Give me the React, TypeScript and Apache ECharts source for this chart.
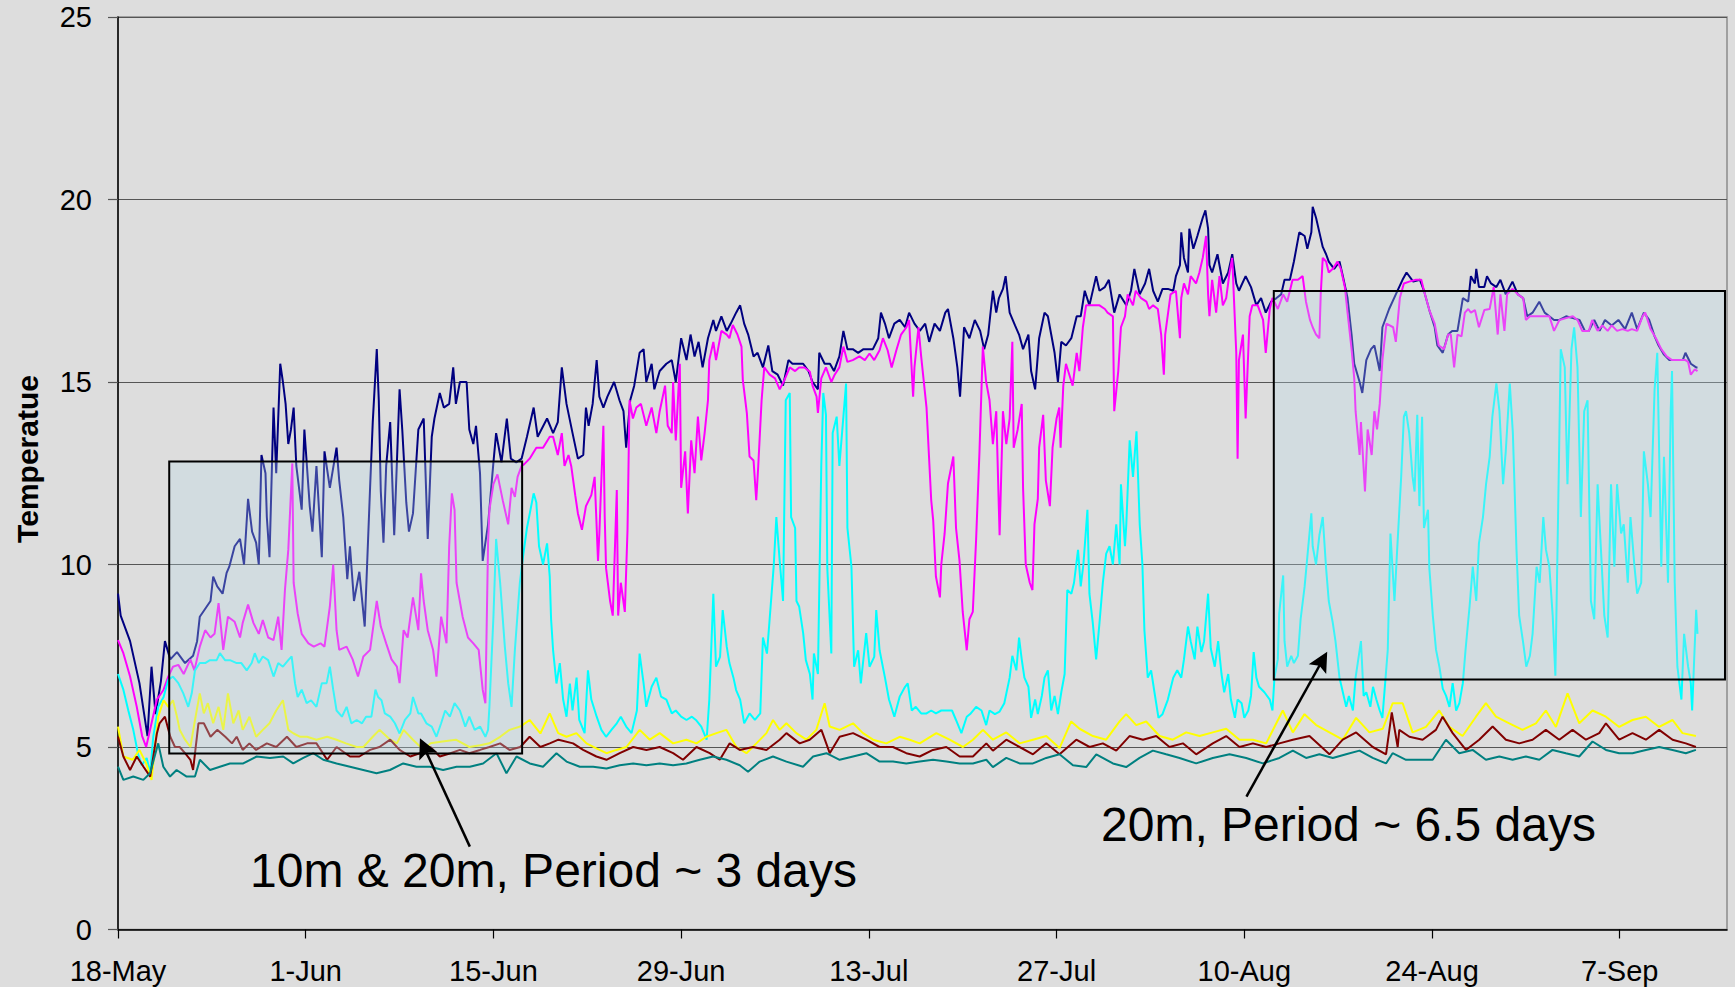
import React, { useEffect, useRef } from "react";
import * as echarts from "echarts";

// ---- axes ----
const TICK_DAYS = [0, 14, 28, 42, 56, 70, 84, 98, 112];
const DAY_LABELS = ["18-May", "1-Jun", "15-Jun", "29-Jun", "13-Jul", "27-Jul", "10-Aug", "24-Aug", "7-Sep"];
const Y_TICKS = [0, 5, 10, 15, 20, 25];

// ---- series: [day since 18-May, temperature] ----
const navy = [[0,9.2],[0.2,8.6],[0.9,7.9],[1.6,6.75],[2.2,5.3],[2.5,7.2],[2.8,5.9],[3.2,6.8],[3.5,7.9],[3.9,7.4],[4.4,7.6],[5.0,7.3],[5.6,7.5],[5.9,7.9],[6.1,8.57],[6.9,9.0],[7.1,9.67],[7.4,9.4],[7.8,9.2],[8.1,9.77],[8.3,9.94],[8.7,10.5],[9.1,10.7],[9.4,10.0],[9.7,11.8],[10.0,10.9],[10.3,10.6],[10.5,10.0],[10.7,13.0],[11.0,12.5],[11.1,11.3],[11.3,10.2],[11.6,14.3],[11.8,12.5],[12.1,15.5],[12.3,15.0],[12.5,14.4],[12.7,13.3],[12.9,13.7],[13.1,14.3],[13.3,12.7],[13.7,11.5],[13.9,13.7],[14.3,11.6],[14.5,10.9],[14.8,12.7],[15.2,10.2],[15.4,13.1],[15.8,12.1],[16.3,13.2],[16.5,12.3],[16.8,11.3],[17.1,9.6],[17.3,10.5],[17.6,9.0],[18.0,9.8],[18.4,8.3],[18.6,10.2],[18.8,12.1],[19.0,13.9],[19.3,15.9],[19.45,14.5],[19.6,12.0],[19.8,10.6],[20.0,12.7],[20.3,13.9],[20.6,10.8],[21.0,14.8],[21.2,13.7],[21.5,11.7],[21.7,10.9],[22.0,11.4],[22.4,13.7],[22.8,14.0],[23.1,10.7],[23.4,13.5],[23.6,14.0],[24.0,14.7],[24.3,14.3],[24.7,14.4],[25.0,15.4],[25.2,14.4],[25.5,15.0],[26.0,15.0],[26.2,13.7],[26.5,13.3],[26.7,13.8],[27.0,12.5],[27.2,10.1],[27.6,11.1],[28.0,12.8],[28.2,13.6],[28.6,12.8],[29.0,14.0],[29.3,12.9],[29.7,12.8],[30.1,12.9],[30.5,13.5],[31.0,14.3],[31.3,13.5],[32.0,14.0],[32.45,13.6],[32.8,13.9],[33.1,15.4],[33.45,14.4],[33.9,13.6],[34.3,12.9],[34.7,13.0],[34.9,14.3],[35.1,13.8],[35.4,14.4],[35.7,15.6],[35.9,14.6],[36.2,14.3],[36.5,14.6],[37.0,15.0],[37.4,14.5],[37.7,14.2],[37.9,13.2],[38.2,14.5],[38.5,14.9],[38.9,15.8],[39.2,15.9],[39.4,15.0],[39.8,15.5],[40.0,14.8],[40.4,15.3],[40.9,15.5],[41.3,15.6],[41.6,15.0],[42.0,16.2],[42.4,15.6],[42.7,16.3],[43.0,15.7],[43.3,16.1],[43.6,15.4],[44.0,16.2],[44.4,16.7],[44.6,16.4],[45.0,16.8],[45.4,16.4],[45.7,16.6],[46.1,16.9],[46.4,17.1],[46.7,16.6],[47.0,16.3],[47.4,15.7],[47.7,15.8],[48.1,15.4],[48.5,16.0],[48.8,15.3],[49.2,15.2],[49.6,14.9],[50.0,15.6],[50.3,15.5],[50.7,15.5],[51.1,15.5],[51.5,15.3],[51.8,15.0],[52.2,14.8],[52.3,15.8],[52.7,15.5],[53.1,15.5],[53.4,15.3],[53.8,15.7],[54.1,16.4],[54.4,15.9],[54.8,15.9],[55.2,15.8],[55.6,15.9],[55.9,15.9],[56.3,15.9],[56.7,16.2],[56.9,16.9],[57.2,16.6],[57.5,16.2],[57.9,16.6],[58.3,16.7],[58.7,16.5],[59.0,16.9],[59.4,16.6],[59.8,16.4],[60.2,16.6],[60.5,16.1],[60.9,16.6],[61.3,16.4],[61.7,16.9],[61.9,17.0],[62.3,16.2],[62.6,15.4],[62.8,14.6],[63.1,16.5],[63.5,16.2],[63.9,16.7],[64.3,16.4],[64.6,15.9],[64.9,16.3],[65.25,17.5],[65.5,16.9],[65.7,17.3],[66.0,17.55],[66.2,17.9],[66.5,16.9],[66.9,16.55],[67.2,16.3],[67.5,15.9],[67.9,16.3],[68.1,15.3],[68.4,14.8],[68.7,16.2],[69.1,16.9],[69.35,16.8],[69.6,16.3],[69.85,15.8],[70.1,15.0],[70.35,16.1],[70.7,16.0],[71.1,16.2],[71.5,16.8],[71.8,16.8],[72.1,17.5],[72.45,17.1],[72.95,17.9],[73.2,17.5],[73.6,17.6],[73.9,17.8],[74.3,16.9],[74.7,17.4],[75.2,17.1],[75.55,17.5],[75.8,18.1],[76.2,17.4],[76.6,17.7],[76.9,18.1],[77.2,17.5],[77.55,17.2],[77.9,17.55],[78.3,17.55],[78.7,17.5],[78.9,17.9],[79.2,18.2],[79.3,19.1],[79.5,18.4],[79.8,18.0],[79.9,19.2],[80.2,18.65],[80.5,19.0],[80.9,19.5],[81.1,19.7],[81.3,19.2],[81.4,18.2],[81.6,18.0],[82.0,18.5],[82.4,17.7],[82.8,18.0],[83.1,18.5],[83.4,17.7],[83.6,17.5],[84.1,17.9],[84.5,17.6],[84.9,17.1],[85.25,17.3],[85.6,16.9],[86.0,17.2],[86.4,17.3],[86.75,17.4],[87.0,17.8],[87.4,17.8],[87.7,18.3],[88.1,19.1],[88.5,19.0],[88.7,18.65],[89.0,19.1],[89.1,19.8],[89.35,19.5],[89.6,19.1],[89.85,18.7],[90.1,18.5],[90.3,18.3],[90.7,18.1],[91.1,18.3],[91.35,17.9],[91.7,17.3],[92.0,16.3],[92.2,15.5],[92.6,15.0],[92.8,14.7],[93.1,15.6],[93.45,15.9],[93.7,16.0],[94.1,15.3],[94.3,16.5],[94.8,17.0],[95.3,17.4],[95.8,17.8],[96.1,18.0],[96.6,17.75],[97.1,17.8],[97.4,17.5],[97.8,16.97],[98.2,16.5],[98.4,16.0],[98.8,15.8],[99.2,16.3],[99.5,16.4],[99.9,16.4],[100.3,17.3],[100.7,17.2],[100.9,17.9],[101.2,17.7],[101.3,18.1],[101.5,17.6],[101.9,17.6],[102.1,17.9],[102.4,17.7],[102.8,17.6],[103.1,17.8],[103.5,17.4],[104.0,17.75],[104.4,17.4],[104.8,17.3],[105.1,16.8],[105.5,16.9],[106.0,17.2],[106.4,16.9],[106.75,16.8],[107.1,16.7],[107.5,16.7],[108.0,16.8],[108.5,16.75],[109.0,16.7],[109.4,16.4],[109.7,16.4],[110.1,16.7],[110.5,16.4],[110.9,16.7],[111.4,16.55],[111.9,16.7],[112.4,16.45],[112.9,16.9],[113.3,16.45],[113.8,16.9],[114.2,16.7],[114.6,16.25],[114.9,16.0],[115.3,15.75],[115.7,15.6],[116.2,15.6],[116.7,15.6],[116.9,15.8],[117.3,15.5],[117.7,15.4],[117.8,15.4]];

const magenta = [[0,7.93],[0.4,7.57],[0.9,6.93],[1.4,6.1],[1.8,5.3],[2.1,5.0],[2.5,5.65],[2.9,6.3],[3.4,6.57],[3.75,6.93],[4.1,7.2],[4.5,7.25],[4.9,7.0],[5.4,7.4],[5.7,7.1],[6.1,7.75],[6.5,8.2],[6.9,8.0],[7.2,8.1],[7.5,8.94],[7.85,7.66],[8.2,8.57],[8.7,8.43],[9.1,8.0],[9.3,8.4],[9.7,8.9],[10.1,8.4],[10.5,8.1],[10.8,8.48],[11.2,8.0],[11.6,7.93],[11.95,8.57],[12.2,7.66],[12.45,9.3],[12.7,10.4],[13.0,12.77],[13.1,9.5],[13.4,8.66],[13.7,8.1],[14.2,7.84],[14.6,7.75],[15.1,7.84],[15.4,7.75],[15.8,8.85],[16.05,10.0],[16.3,8.2],[16.5,7.66],[17.05,7.75],[17.5,7.4],[17.9,6.93],[18.3,7.48],[18.8,7.66],[19.3,9.0],[19.6,8.3],[20.0,7.84],[20.4,7.4],[20.8,7.2],[21.0,6.75],[21.3,8.2],[21.6,8.0],[22.0,9.1],[22.4,8.2],[22.6,9.76],[22.8,9.0],[23.1,8.2],[23.5,7.66],[23.75,6.93],[24.1,8.57],[24.5,7.84],[24.7,10.5],[24.9,11.95],[25.1,11.5],[25.25,9.5],[25.7,8.57],[26.1,8.0],[26.5,7.84],[26.9,7.66],[27.2,6.57],[27.4,6.2],[27.6,10.58],[27.7,11.5],[28.0,12.2],[28.3,12.47],[28.7,11.75],[29.1,11.1],[29.35,12.1],[29.6,11.85],[29.8,12.4],[30.1,12.7],[30.3,12.75],[30.7,12.9],[31.2,13.2],[31.7,13.2],[32.2,13.5],[32.45,13.5],[32.8,13.0],[33.1,13.6],[33.3,12.7],[33.6,13.0],[33.8,12.7],[34.1,11.9],[34.3,11.4],[34.6,10.95],[34.9,11.6],[35.3,11.9],[35.55,12.4],[35.8,10.1],[35.9,10.85],[36.2,13.8],[36.3,11.3],[36.4,9.9],[36.7,9.0],[36.9,8.6],[37.2,12.04],[37.3,8.6],[37.5,9.5],[37.8,8.7],[38.0,10.95],[38.15,14.5],[38.4,14.0],[38.66,14.3],[39.0,14.4],[39.4,13.8],[39.8,14.3],[40.15,13.6],[40.4,14.2],[40.8,14.9],[41.0,13.8],[41.3,13.6],[41.4,15.0],[41.6,13.4],[41.9,15.5],[42.0,12.1],[42.3,13.1],[42.5,11.4],[42.75,13.4],[43.0,12.5],[43.25,14.05],[43.5,12.85],[43.75,13.6],[44.0,14.5],[44.1,15.6],[44.4,16.1],[44.6,15.6],[45.0,16.4],[45.4,16.3],[45.6,16.2],[45.85,16.56],[46.2,16.3],[46.5,15.97],[46.6,15.05],[46.9,14.15],[47.1,12.96],[47.4,12.85],[47.6,11.76],[47.75,12.7],[48.0,14.5],[48.2,15.4],[48.6,15.2],[49.0,15.1],[49.35,14.8],[49.7,15.05],[50.1,15.4],[50.5,15.3],[50.8,15.4],[51.2,15.4],[51.6,15.28],[51.8,14.9],[52.1,14.6],[52.2,14.15],[52.45,15.1],[52.8,15.4],[53.2,15.0],[53.45,15.2],[53.8,15.4],[54.1,15.97],[54.4,15.55],[54.8,15.6],[55.3,15.7],[55.7,15.6],[56.05,15.78],[56.4,15.6],[56.8,15.87],[57.05,16.2],[57.4,15.87],[57.7,15.4],[58.05,15.87],[58.4,16.3],[58.8,16.5],[59.0,16.7],[59.3,14.6],[59.4,15.4],[59.7,16.5],[59.9,15.7],[60.3,14.3],[60.65,11.76],[60.8,11.2],[61.0,9.67],[61.3,9.1],[61.4,10.0],[61.65,10.85],[61.9,12.22],[62.3,12.96],[62.5,11.0],[62.76,10.1],[63.0,8.7],[63.3,7.65],[63.5,8.5],[63.75,8.7],[64.0,10.7],[64.25,13.1],[64.5,15.97],[64.75,15.0],[65.0,14.5],[65.25,13.3],[65.5,14.2],[65.75,10.8],[66.0,14.2],[66.25,13.3],[66.5,14.0],[66.7,16.1],[66.8,13.2],[67.1,13.7],[67.4,14.4],[67.5,12.1],[67.7,10.0],[68.0,9.5],[68.2,9.3],[68.35,11.1],[68.6,11.8],[68.7,13.2],[69.0,14.1],[69.2,12.3],[69.5,11.6],[69.7,13.2],[70.0,14.0],[70.2,14.3],[70.3,13.2],[70.5,14.9],[70.7,15.5],[70.95,15.2],[71.2,14.9],[71.5,15.8],[71.7,15.3],[71.96,16.5],[72.2,17.1],[72.7,17.1],[73.2,17.1],[73.6,17.0],[73.8,16.9],[74.2,16.8],[74.3,14.2],[74.6,15.3],[74.8,16.5],[75.1,16.8],[75.3,17.4],[75.7,17.1],[75.9,17.5],[76.3,17.3],[76.7,17.2],[76.9,17.0],[77.2,17.1],[77.55,17.0],[77.8,16.3],[78.0,15.2],[78.1,16.3],[78.5,17.4],[78.9,17.5],[79.2,16.2],[79.3,17.3],[79.5,17.7],[79.8,17.4],[80.0,17.9],[80.4,17.7],[80.65,18.0],[80.9,18.4],[81.15,19.0],[81.3,17.4],[81.4,16.8],[81.6,17.8],[81.9,16.9],[82.15,17.9],[82.4,17.1],[82.65,17.3],[82.9,18.0],[83.1,18.4],[83.4,15.8],[83.5,12.9],[83.6,15.6],[83.9,16.3],[84.1,14.0],[84.4,16.8],[84.6,17.1],[85.0,17.1],[85.4,16.7],[85.6,15.8],[85.9,17.0],[86.1,17.3],[86.5,17.0],[86.9,17.4],[87.2,17.2],[87.6,17.8],[88.0,17.8],[88.35,17.9],[88.6,17.2],[88.9,16.7],[89.1,16.5],[89.35,16.3],[89.6,16.2],[89.7,17.4],[89.85,18.4],[90.1,18.3],[90.3,18.0],[90.6,18.1],[90.95,18.3],[91.2,18.1],[91.5,17.6],[91.7,16.9],[92.0,15.9],[92.2,15.1],[92.3,14.2],[92.6,13.0],[92.7,13.9],[93.0,12.0],[93.2,13.7],[93.5,13.0],[93.7,14.2],[93.9,13.7],[94.1,14.4],[94.3,15.6],[94.6,16.6],[95.1,16.5],[95.3,16.1],[95.6,17.3],[95.9,17.7],[96.3,17.75],[96.8,17.8],[97.2,17.8],[97.4,17.5],[97.8,16.97],[98.2,16.6],[98.5,16.0],[98.9,15.9],[99.2,16.3],[99.4,16.3],[99.65,15.4],[99.9,16.3],[100.2,16.25],[100.45,16.9],[100.7,17.0],[100.9,16.9],[101.2,16.97],[101.5,16.5],[101.9,16.97],[102.3,17.0],[102.6,17.6],[102.9,16.3],[103.1,17.4],[103.4,16.4],[103.6,17.4],[104.0,17.55],[104.4,17.4],[104.8,17.3],[105.0,16.7],[105.3,16.8],[105.8,16.8],[106.3,16.8],[106.75,16.8],[107.1,16.4],[107.5,16.7],[108.0,16.75],[108.5,16.8],[108.85,16.7],[109.2,16.4],[109.7,16.4],[109.95,16.7],[110.35,16.4],[110.7,16.55],[111.1,16.4],[111.4,16.55],[111.8,16.4],[112.2,16.45],[112.6,16.4],[112.9,16.45],[113.3,16.4],[113.7,16.8],[113.9,16.9],[114.3,16.45],[114.7,16.2],[115.1,15.9],[115.5,15.7],[115.9,15.6],[116.4,15.6],[116.9,15.6],[117.1,15.55],[117.3,15.2],[117.6,15.35],[117.8,15.3]];

const cyan = [[0,7.0],[0.4,6.57],[0.77,6.0],[1.14,5.47],[1.5,4.8],[1.77,4.5],[2.14,4.7],[2.4,4.28],[2.63,5.28],[3.0,6.1],[3.4,6.37],[3.75,6.84],[4.1,6.93],[4.5,6.75],[4.87,6.47],[5.24,6.1],[5.5,6.47],[5.74,7.1],[6.1,7.3],[6.5,7.3],[6.86,7.38],[7.36,7.38],[7.6,7.57],[7.98,7.38],[8.35,7.38],[8.85,7.3],[9.2,7.3],[9.6,7.1],[9.97,7.3],[10.2,7.57],[10.5,7.3],[10.8,7.48],[11.2,7.38],[11.6,6.93],[11.95,7.3],[12.3,7.2],[12.7,7.38],[12.95,7.48],[13.2,6.75],[13.4,6.37],[13.7,6.57],[14.07,6.2],[14.4,6.28],[14.8,6.1],[15.2,6.75],[15.56,6.75],[15.8,7.2],[16.05,6.57],[16.3,6.0],[16.7,5.83],[17.05,6.1],[17.4,5.65],[17.8,5.74],[18.2,5.65],[18.5,5.83],[18.9,5.83],[19.2,6.57],[19.4,6.37],[19.65,6.28],[19.9,5.92],[20.3,5.83],[20.65,5.65],[21.0,5.37],[21.4,5.74],[21.8,5.92],[22.0,6.37],[22.4,5.92],[22.6,5.92],[23.0,5.65],[23.4,5.56],[23.75,5.28],[24.1,5.65],[24.4,6.0],[24.75,5.83],[25.1,6.2],[25.5,6.0],[25.9,5.56],[26.2,5.83],[26.6,5.47],[27.0,5.56],[27.4,5.28],[27.6,5.47],[27.7,6.1],[28.0,8.57],[28.2,10.7],[28.5,9.5],[28.85,7.75],[29.1,6.75],[29.35,6.1],[29.6,7.66],[29.97,9.5],[30.2,10.2],[30.5,11.0],[31.0,11.95],[31.2,11.7],[31.4,10.5],[31.7,10.0],[32.0,10.58],[32.2,9.67],[32.3,8.5],[32.45,7.65],[32.7,6.74],[32.95,7.3],[33.2,6.3],[33.45,5.83],[33.7,6.74],[33.9,6.0],[34.2,6.9],[34.4,5.74],[34.8,5.38],[35.05,7.1],[35.3,6.3],[35.7,5.83],[36.05,5.47],[36.4,5.28],[36.8,5.47],[37.2,5.65],[37.5,5.83],[37.9,5.56],[38.3,5.38],[38.7,6.0],[38.9,7.56],[39.2,6.74],[39.4,6.1],[39.8,6.65],[40.15,6.9],[40.5,6.38],[40.9,6.3],[41.3,5.92],[41.6,6.0],[42.0,5.83],[42.4,5.74],[42.8,5.83],[43.1,5.74],[43.5,5.56],[43.9,5.2],[44.1,6.3],[44.4,9.2],[44.6,7.2],[44.9,7.47],[45.1,8.75],[45.4,7.75],[45.6,7.3],[45.9,6.9],[46.1,6.56],[46.4,6.3],[46.7,5.65],[47.1,5.92],[47.5,5.74],[47.9,5.92],[48.1,8.0],[48.4,7.56],[48.6,8.5],[48.9,9.94],[49.1,11.3],[49.35,10.1],[49.6,9.0],[49.8,14.5],[50.1,14.7],[50.2,11.3],[50.5,11.0],[50.6,9.0],[50.8,8.85],[51.1,8.12],[51.3,7.38],[51.6,7.0],[51.8,6.3],[51.9,7.56],[52.2,7.0],[52.45,12.7],[52.6,14.7],[52.8,14.1],[52.9,9.9],[53.2,7.56],[53.3,13.6],[53.6,14.05],[53.8,12.7],[54.1,14.05],[54.3,14.96],[54.4,11.0],[54.7,9.94],[54.9,7.2],[55.2,7.65],[55.4,6.74],[55.8,8.12],[56.05,7.2],[56.4,7.47],[56.55,8.75],[56.8,7.65],[57.2,6.9],[57.5,6.3],[57.9,5.83],[58.3,6.38],[58.7,6.65],[58.9,6.74],[59.2,6.0],[59.5,6.1],[59.9,5.92],[60.3,5.92],[60.65,6.0],[61.0,5.92],[61.4,6.0],[61.8,6.0],[62.2,6.0],[62.5,5.74],[62.9,5.38],[63.3,5.83],[63.6,5.92],[64.0,6.1],[64.4,6.0],[64.75,5.6],[65.0,6.0],[65.4,5.9],[65.75,5.97],[66.1,6.2],[66.5,6.9],[66.7,7.5],[67.0,7.1],[67.2,8.0],[67.4,7.4],[67.6,6.9],[67.9,6.65],[68.1,5.8],[68.4,6.3],[68.6,5.9],[68.9,6.4],[69.1,6.9],[69.35,7.1],[69.6,6.0],[69.85,6.4],[70.1,5.9],[70.35,6.5],[70.6,7.0],[70.8,9.3],[71.1,9.2],[71.3,9.5],[71.6,10.4],[71.8,9.4],[72.0,10.0],[72.3,11.5],[72.45,9.2],[72.7,8.4],[72.95,7.4],[73.2,8.4],[73.45,9.5],[73.7,10.3],[73.95,10.5],[74.2,10.0],[74.45,11.1],[74.7,10.0],[74.8,12.2],[75.1,10.5],[75.2,11.1],[75.45,13.4],[75.7,12.4],[75.96,13.65],[76.2,11.1],[76.4,10.0],[76.55,8.2],[76.8,6.9],[77.05,7.1],[77.3,6.5],[77.6,5.8],[77.9,5.9],[78.3,6.3],[78.7,6.9],[79.0,7.1],[79.3,6.9],[79.5,7.4],[79.8,8.3],[80.0,7.9],[80.3,7.4],[80.5,8.3],[80.8,7.6],[81.0,7.9],[81.3,9.2],[81.5,7.7],[81.8,7.2],[82.05,7.9],[82.3,7.0],[82.5,6.5],[82.8,7.0],[83.0,6.3],[83.3,5.8],[83.5,6.3],[83.8,6.2],[84.0,5.8],[84.3,6.0],[84.5,6.4],[84.7,7.6],[84.9,6.9],[85.1,6.65],[85.5,6.5],[85.9,6.3],[86.1,6.0],[86.25,6.9],[86.5,7.4],[86.6,8.65],[86.9,9.7],[87.0,7.9],[87.2,7.2],[87.5,7.5],[87.7,7.3],[88.0,7.5],[88.2,8.5],[88.5,9.4],[88.7,10.2],[89.0,11.4],[89.1,10.5],[89.35,10.0],[89.6,10.8],[89.85,11.3],[90.1,9.9],[90.3,9.0],[90.6,8.4],[90.8,7.9],[91.1,6.9],[91.35,6.5],[91.6,6.1],[91.8,6.4],[92.1,6.0],[92.3,6.9],[92.7,7.9],[92.9,6.4],[93.1,6.5],[93.4,6.1],[93.6,6.65],[93.85,6.3],[94.1,6.0],[94.3,5.8],[94.7,7.66],[94.9,10.85],[95.2,9.0],[95.4,10.4],[95.7,12.4],[95.9,14.05],[96.06,14.2],[96.3,13.6],[96.55,12.4],[96.7,12.0],[96.9,14.1],[97.06,11.6],[97.26,14.05],[97.4,11.0],[97.7,11.5],[97.8,9.9],[98.06,8.6],[98.3,7.66],[98.55,7.2],[98.8,6.6],[99.05,6.4],[99.3,6.1],[99.54,6.75],[99.8,6.0],[100.04,6.2],[100.3,6.75],[100.5,7.66],[100.8,8.85],[101.04,9.94],[101.3,9.0],[101.5,10.58],[101.8,11.3],[102.03,12.2],[102.3,12.95],[102.5,14.05],[102.8,14.96],[103.03,14.2],[103.3,12.2],[103.5,13.1],[103.8,14.96],[104.03,13.6],[104.3,10.4],[104.5,8.6],[104.8,7.85],[105.03,7.2],[105.3,7.5],[105.5,8.1],[105.8,9.94],[106.03,9.5],[106.3,11.3],[106.5,10.4],[106.75,9.94],[107.0,8.6],[107.2,6.95],[107.4,11.3],[107.6,15.9],[107.9,15.4],[108.1,12.2],[108.4,15.9],[108.6,16.5],[108.85,15.4],[109.1,11.3],[109.35,14.2],[109.6,14.5],[109.85,9.0],[110.1,8.5],[110.35,12.2],[110.6,10.4],[110.85,8.6],[111.1,8.0],[111.35,12.2],[111.6,9.94],[111.8,12.2],[112.1,10.85],[112.3,11.1],[112.6,9.5],[112.8,11.3],[113.1,9.94],[113.3,9.2],[113.6,9.5],[113.8,13.1],[114.1,12.2],[114.3,11.3],[114.6,14.8],[114.8,15.8],[115.1,9.94],[115.3,12.95],[115.6,9.5],[115.8,14.2],[115.9,15.3],[116.1,9.5],[116.3,7.2],[116.6,6.3],[116.8,8.1],[117.1,7.2],[117.3,6.75],[117.4,6.0],[117.7,8.76],[117.8,8.1]];

const yellow = [[0,5.56],[0.4,4.74],[1.1,4.65],[1.6,4.92],[2.1,4.55],[2.5,4.1],[3.0,5.83],[3.4,6.28],[3.75,6.1],[4.1,6.28],[4.4,5.83],[4.6,5.47],[5.0,5.2],[5.4,5.0],[5.7,5.65],[6.1,6.47],[6.4,5.92],[6.7,6.2],[7.1,5.65],[7.5,6.1],[7.85,5.47],[8.2,6.47],[8.6,5.65],[9.0,6.0],[9.3,5.47],[9.8,5.83],[10.3,5.28],[10.8,5.47],[11.3,5.65],[11.8,6.0],[12.3,6.28],[12.7,5.47],[13.1,5.37],[13.6,5.28],[14.1,5.28],[14.8,5.2],[15.6,5.28],[16.3,5.2],[17.0,5.1],[17.8,5.0],[18.3,5.0],[19.0,5.28],[19.5,5.47],[20.3,5.2],[20.8,5.1],[21.3,5.47],[22.0,5.2],[22.8,4.92],[23.3,5.1],[24.2,5.15],[25.2,5.2],[26.2,5.0],[27.0,5.05],[27.7,5.1],[28.5,5.28],[29.2,5.47],[30.0,5.56],[30.7,5.74],[31.5,5.37],[32.2,5.92],[32.83,5.38],[33.45,5.28],[34.19,5.38],[34.94,5.1],[35.68,4.96],[36.43,4.83],[37.17,4.92],[37.92,5.0],[38.91,5.47],[39.66,5.2],[40.4,5.38],[41.4,5.1],[42.39,5.2],[43.14,5.1],[43.88,5.28],[44.63,5.38],[45.37,5.47],[46.12,5.0],[46.87,4.83],[47.61,5.1],[48.36,5.38],[48.85,5.74],[49.35,5.47],[49.85,5.65],[50.59,5.38],[51.34,5.2],[52.08,5.47],[52.7,6.2],[53.08,5.56],[53.82,5.47],[54.82,5.65],[55.56,5.38],[56.31,5.2],[57.3,5.1],[58.3,5.28],[59.04,5.2],[59.79,5.1],[61.03,5.38],[62.02,5.2],[63.02,5.0],[63.76,5.2],[64.51,5.47],[65.25,5.2],[66.25,5.4],[67.24,5.1],[68.24,5.2],[69.23,5.3],[70.22,4.97],[71.09,5.7],[71.71,5.5],[72.71,5.3],[73.7,5.2],[74.7,5.7],[75.19,5.9],[75.94,5.6],[76.68,5.7],[77.68,5.3],[78.67,5.2],[79.67,5.4],[80.66,5.3],[81.65,5.4],[82.65,5.5],[83.64,5.2],[84.64,5.2],[85.63,5.1],[86.87,6.0],[87.62,5.4],[88.49,5.9],[89.36,5.6],[90.35,5.4],[91.34,5.2],[92.34,5.8],[93.33,5.4],[94.33,5.5],[95.07,6.2],[95.81,6.2],[96.55,5.4],[97.55,5.55],[98.54,6.0],[99.29,5.55],[100.28,5.3],[101.28,5.83],[102.02,6.2],[102.77,5.83],[103.76,5.65],[104.75,5.47],[105.75,5.65],[106.49,6.0],[107.24,5.55],[108.11,6.47],[108.98,5.65],[109.97,6.0],[110.97,5.83],[111.96,5.55],[112.95,5.74],[113.95,5.83],[114.94,5.55],[115.94,5.74],[116.68,5.38],[117.68,5.3]];

const darkRed = [[0,5.28],[0.4,4.74],[0.9,4.37],[1.4,4.74],[1.9,4.46],[2.4,4.19],[2.9,5.37],[3.1,5.65],[3.5,5.83],[3.9,5.28],[4.25,5.0],[4.6,5.0],[5.0,4.83],[5.4,4.65],[5.6,4.37],[6.0,5.65],[6.4,5.65],[6.9,5.28],[7.4,5.47],[8.0,5.28],[8.5,5.1],[8.85,5.28],[9.3,4.92],[9.8,5.1],[10.3,4.92],[11.1,5.1],[11.8,5.0],[12.6,5.28],[13.3,5.0],[14.1,5.1],[14.8,5.1],[15.6,4.65],[16.3,5.0],[17.3,4.74],[18.0,4.74],[18.8,4.92],[19.5,5.0],[20.3,5.2],[21.0,4.92],[21.8,4.74],[22.5,4.83],[23.3,5.0],[24.0,4.74],[24.8,4.83],[25.5,4.92],[26.2,4.83],[27.0,4.92],[27.7,5.0],[28.5,5.1],[29.2,4.92],[30.0,5.0],[30.7,5.28],[31.5,5.0],[32.2,5.1],[32.85,5.2],[33.94,5.1],[34.69,4.92],[35.68,4.74],[36.43,4.65],[37.42,4.83],[38.42,5.0],[39.41,4.92],[40.4,5.0],[41.4,4.83],[42.14,4.65],[43.14,5.0],[44.13,4.83],[44.88,4.65],[45.62,5.1],[46.37,4.92],[47.36,5.0],[48.36,4.92],[49.35,5.2],[49.85,5.38],[50.84,5.1],[51.59,5.2],[52.46,5.47],[53.08,4.83],[53.82,5.28],[54.82,5.38],[55.81,5.2],[56.8,5.0],[57.8,5.0],[58.79,4.83],[59.79,4.74],[60.78,4.92],[61.78,5.0],[62.77,4.74],[63.76,4.74],[64.76,5.1],[65.25,4.9],[66.25,5.2],[67.24,5.0],[68.24,4.8],[69.23,5.1],[70.22,4.8],[71.47,5.2],[72.46,5.0],[73.45,5.1],[74.45,4.9],[75.44,5.3],[76.44,5.2],[77.43,5.3],[78.42,5.0],[79.42,5.1],[80.41,4.8],[81.65,5.1],[82.65,5.3],[83.64,5.0],[84.64,5.1],[85.63,5.0],[86.62,5.1],[87.62,5.2],[88.86,5.3],[90.35,4.8],[91.34,5.2],[92.34,5.4],[93.58,5.0],[94.57,4.8],[95.0,5.95],[95.44,5.0],[95.56,5.47],[96.31,5.28],[97.3,5.2],[98.29,5.47],[98.79,5.83],[99.54,5.38],[100.53,4.92],[101.52,5.2],[102.52,5.56],[103.51,5.2],[104.51,5.1],[105.5,5.2],[106.49,5.47],[107.49,5.2],[108.48,5.47],[109.48,5.2],[110.47,5.38],[110.97,5.65],[111.96,5.2],[112.95,5.38],[113.95,5.2],[114.94,5.47],[115.94,5.2],[116.93,5.1],[117.68,5.0]];

const teal = [[0,4.46],[0.4,4.1],[1.14,4.19],[1.89,4.1],[2.39,4.28],[3.0,5.1],[3.38,4.46],[3.88,4.19],[4.37,4.37],[5.12,4.19],[5.74,4.19],[6.11,4.65],[6.86,4.37],[7.6,4.46],[8.35,4.55],[9.34,4.55],[10.34,4.74],[11.33,4.7],[12.32,4.74],[13.07,4.55],[13.82,4.7],[14.56,4.83],[15.31,4.65],[16.3,4.55],[17.3,4.46],[18.29,4.37],[19.28,4.28],[20.28,4.37],[21.27,4.55],[22.26,4.46],[23.26,4.46],[24.25,4.37],[25.25,4.46],[26.24,4.46],[27.23,4.55],[28.23,4.83],[28.97,4.28],[29.72,4.74],[30.71,4.55],[31.7,4.46],[32.7,4.83],[33.45,4.6],[34.44,4.46],[35.44,4.46],[36.43,4.41],[37.42,4.5],[38.42,4.55],[39.41,4.5],[40.4,4.55],[41.4,4.5],[42.39,4.55],[43.39,4.65],[44.38,4.74],[45.37,4.65],[46.37,4.5],[46.99,4.32],[47.86,4.6],[48.85,4.74],[49.85,4.6],[51.09,4.46],[51.84,4.74],[52.83,4.83],[53.82,4.65],[54.82,4.74],[55.81,4.83],[56.8,4.6],[57.8,4.6],[58.79,4.55],[59.79,4.6],[60.78,4.65],[61.78,4.6],[62.77,4.55],[63.76,4.55],[64.76,4.65],[65.25,4.45],[66.25,4.7],[67.24,4.55],[68.24,4.55],[69.23,4.7],[70.22,4.8],[71.22,4.5],[72.21,4.45],[72.96,4.8],[74.2,4.55],[75.19,4.45],[76.19,4.7],[77.18,4.9],[78.17,4.8],[79.17,4.7],[80.41,4.55],[81.65,4.7],[82.9,4.8],[84.14,4.7],[85.38,4.55],[86.62,4.7],[87.62,4.9],[88.61,4.7],[89.6,4.8],[90.6,4.7],[91.59,4.8],[92.59,4.9],[93.58,4.7],[94.57,4.55],[95.06,4.83],[96.06,4.65],[97.05,4.65],[98.05,4.65],[99.04,5.2],[100.03,4.83],[101.03,4.92],[102.02,4.65],[103.02,4.74],[104.01,4.65],[105.0,4.74],[106.0,4.65],[106.99,4.92],[107.98,4.83],[108.98,4.74],[109.97,5.15],[110.97,4.92],[111.96,4.83],[112.95,4.83],[113.95,4.92],[114.94,5.0],[115.94,4.92],[116.93,4.83],[117.68,4.92]];

// ---- annotations ----
// shaded boxes: [dayStart, dayEnd, tempLow, tempHigh]
const BOXES = [
  [3.82, 30.14, 4.82, 12.82],
  [86.2, 119.85, 6.85, 17.49],
];
// arrows: [[tailDay, tailTemp], [headDay, headTemp]]
const ARROWS = [
  [[26.24, 2.27], [22.83, 4.99]],
  [[84.16, 3.64], [89.82, 7.37]],
];
const NOTE_1 = "10m & 20m, Period ~ 3 days";
const NOTE_2 = "20m, Period ~ 6.5 days";

const SERIES = [
  { name: "Surface", data: navy, color: "#000080" },
  { name: "10m", data: magenta, color: "#ff00ff" },
  { name: "20m", data: cyan, color: "#00ffff" },
  { name: "30m", data: yellow, color: "#ffff00" },
  { name: "40m", data: darkRed, color: "#800000" },
  { name: "50m", data: teal, color: "#008080" },
];

const FONT = '"Liberation Sans", Arial, sans-serif';
const ARROW_HEAD = "path://M8,0 L16,20 L8,16 L0,20 Z";

export default function App() {
  const ref = useRef<HTMLDivElement>(null);

  useEffect(() => {
    if (!ref.current) return;
    const chart = echarts.init(ref.current, null, { renderer: "svg" });

    const lineSeries: any[] = SERIES.map((s) => ({
      type: "line",
      name: s.name,
      data: s.data,
      showSymbol: false,
      symbol: "none",
      smooth: false,
      lineStyle: { color: s.color, width: 2 },
      itemStyle: { color: s.color },
      silent: true,
      z: 2,
    }));

    const option: any = {
      animation: false,
      backgroundColor: "#dddddd",
      textStyle: { fontFamily: FONT },
      grid: {
        left: 118,
        top: 17,
        right: 8,
        bottom: 57.5,
        show: true,
        backgroundColor: "transparent",
        borderColor: "#8c8c8c",
        borderWidth: 1.5,
      },
      xAxis: {
        type: "value",
        min: 0,
        max: 120,
        interval: 14,
        axisLine: { show: true, lineStyle: { color: "#000", width: 1.5 } },
        axisTick: { show: true, length: 9, lineStyle: { color: "#000", width: 1.2 }, customValues: TICK_DAYS },
        axisLabel: {
          show: true,
          customValues: TICK_DAYS,
          formatter: (v: number) => {
            const i = TICK_DAYS.indexOf(Math.round(v));
            return i >= 0 ? DAY_LABELS[i] : "";
          },
          color: "#000",
          fontSize: 29,
          fontFamily: FONT,
          margin: 27,
        },
        splitLine: { show: false },
      },
      yAxis: {
        type: "value",
        min: Y_TICKS[0],
        max: Y_TICKS[Y_TICKS.length - 1],
        interval: 5,
        axisLine: { show: true, lineStyle: { color: "#000", width: 1.5 } },
        axisTick: { show: true, inside: false, length: 10, lineStyle: { color: "#555", width: 1.2 } },
        axisLabel: { color: "#000", fontSize: 29, fontFamily: FONT, margin: 26 },
        splitLine: { show: true, lineStyle: { color: "#555555", width: 1.2 } },
      },
      series: [
        ...lineSeries,
        {
          type: "custom",
          name: "boxes",
          data: BOXES,
          silent: true,
          z: 10,
          encode: { x: [0, 1], y: [2, 3] },
          renderItem: (params: any, api: any) => {
            const p0 = api.coord([api.value(0), api.value(3)]);
            const p1 = api.coord([api.value(1), api.value(2)]);
            return {
              type: "rect",
              shape: { x: p0[0], y: p0[1], width: p1[0] - p0[0], height: p1[1] - p0[1] },
              style: { fill: "rgba(187,219,231,0.31)", stroke: "#000", lineWidth: 2 },
            };
          },
        },
        {
          type: "line",
          name: "arrows",
          data: [],
          silent: true,
          z: 12,
          itemStyle: { color: "#000" },
          markLine: {
            silent: true,
            z: 12,
            symbol: ["none", ARROW_HEAD],
            symbolSize: 20,
            label: { show: false },
            itemStyle: { color: "#000" },
            lineStyle: { color: "#000", width: 2.5, type: "solid" },
            emphasis: { disabled: true },
            data: ARROWS.map((a) => [{ coord: a[0] }, { coord: a[1] }]),
          },
        },
      ],
      graphic: [
        {
          type: "text",
          x: 27,
          y: 459,
          rotation: Math.PI / 2,
          silent: true,
          style: {
            text: "Temperatue",
            fontSize: 30,
            fontWeight: "bold",
            fontFamily: FONT,
            fill: "#000",
            align: "center",
            verticalAlign: "middle",
            textAlign: "center",
            textVerticalAlign: "middle",
          },
        },
        {
          type: "text",
          x: 250,
          y: 870,
          silent: true,
          z: 20,
          style: {
            text: NOTE_1,
            fontSize: 48,
            fontFamily: FONT,
            fill: "#000",
            align: "left",
            verticalAlign: "middle",
            textAlign: "left",
            textVerticalAlign: "middle",
          },
        },
        {
          type: "text",
          x: 1101,
          y: 824,
          silent: true,
          z: 20,
          style: {
            text: NOTE_2,
            fontSize: 48,
            fontFamily: FONT,
            fill: "#000",
            align: "left",
            verticalAlign: "middle",
            textAlign: "left",
            textVerticalAlign: "middle",
          },
        },
      ],
    };

    chart.setOption(option);
    return () => chart.dispose();
  }, []);

  return (
    <div
      ref={ref}
      style={{ position: "fixed", left: 0, top: 0, width: 1735, height: 987, background: "#dddddd" }}
    />
  );
}
